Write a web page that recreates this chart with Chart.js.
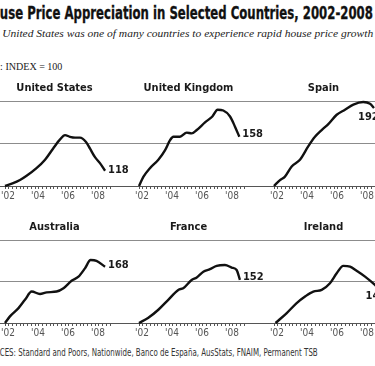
<!DOCTYPE html>
<html><head><meta charset="utf-8">
<script src="https://cdn.jsdelivr.net/npm/chart.js@4.4.1/dist/chart.umd.min.js"></script>
<style>
html,body{margin:0;padding:0;background:#fff;}
body{width:375px;height:366px;overflow:hidden;position:relative;}
.txt{position:absolute;white-space:nowrap;top:0;left:0;}
canvas{position:absolute;}
</style></head><body>
<div id="t1" class="txt" style="font:bold 17px/20px 'Liberation Sans Narrow','DejaVu Sans Condensed','Liberation Sans',sans-serif;color:#111;top:3px;-webkit-text-stroke:0.3px #111;"><span id="t1p">Ho</span><span id="t1v">use Price Appreciation in Selected Countries, 2002-2008</span></div>
<div id="t2" class="txt" style="font:italic 11px/13px 'Liberation Serif','DejaVu Serif',serif;color:#222;top:27px;"><span id="t2p">The </span><span id="t2v">United States was one of many countries to experience rapid house price growth</span></div>
<div id="t3" class="txt" style="font:10px/12px 'Liberation Serif','DejaVu Serif',serif;color:#222;top:61px;"><span id="t3p">2002: </span><span id="t3v">INDEX = 100</span></div>
<div id="t4" class="txt" style="font:10px/11px 'Liberation Sans Narrow','DejaVu Sans Condensed','Liberation Sans',sans-serif;color:#333;top:347px;"><span id="t4p">SOUR</span><span id="t4v">CES: Standard and Poors, Nationwide, Banco de España, AusStats, FNAIM, Permanent TSB</span></div>
<canvas id="c0"></canvas><canvas id="c1"></canvas><canvas id="c2"></canvas>
<canvas id="c3"></canvas><canvas id="c4"></canvas><canvas id="c5"></canvas>
<script>
// ---- DATA ----
const countries = ['United States', 'United Kingdom', 'Spain', 'Australia', 'France', 'Ireland'];

const usYears  = [2002.0, 2002.5, 2003.0, 2003.44, 2004.1, 2004.67, 2005.2, 2005.67, 2006.0, 2006.33, 2006.67, 2007.0, 2007.4, 2007.67, 2008.0, 2008.33, 2008.67];
const usValues = [100, 103, 107, 112, 121, 131, 144, 155, 160, 158, 157, 157, 152, 144, 134, 127, 118];

const ukYears  = [2002.0, 2002.3, 2002.73, 2003.29, 2003.73, 2004.07, 2004.29, 2004.73, 2005.18, 2005.51, 2005.85, 2006.4, 2006.89, 2007.24, 2007.62, 2008.07, 2008.4, 2008.69];
const ukValues = [100, 111, 121, 131, 142, 154, 158, 158, 163, 162, 166, 175, 182, 190, 189, 182, 170, 158];

const spainYears  = [2002.0, 2002.4, 2002.73, 2003.18, 2003.73, 2004.29, 2004.73, 2005.18, 2005.62, 2006.18, 2006.73, 2007.29, 2007.95, 2008.4, 2008.67];
const spainValues = [100, 107, 111, 123, 131, 147, 158, 166, 173, 184, 190, 196, 199, 197, 192];

const australiaYears  = [2002.0, 2002.33, 2002.9, 2003.33, 2003.78, 2004.33, 2004.78, 2005.44, 2005.9, 2006.44, 2006.9, 2007.33, 2007.71, 2008.1, 2008.67];
const australiaValues = [100, 108, 118, 128, 138, 135, 137, 138, 142, 151, 156, 166, 176, 175, 168];

const franceYears  = [2002.0, 2002.6, 2003.29, 2003.95, 2004.62, 2004.95, 2005.51, 2005.85, 2006.29, 2006.73, 2007.18, 2007.73, 2008.18, 2008.51, 2008.73];
const franceValues = [100, 106, 116, 128, 140, 142, 152, 155, 162, 165, 169, 170, 167, 164, 152];

const irelandYears  = [2002.1, 2002.85, 2003.51, 2004.07, 2004.62, 2005.18, 2005.73, 2006.18, 2006.62, 2007.07, 2007.51, 2008.07, 2008.73, 2008.9];
const irelandValues = [100, 112, 124, 132, 138, 140, 148, 160, 169, 168, 163, 156, 146, 143];

const tickYears  = [2002, 2004, 2006, 2008];
const tickLabels = ["'02", "'04", "'06", "'08"];
const gridValues = [100, 150, 200];

// ---- LAYOUT ----
const seriesYears  = [usYears, ukYears, spainYears, australiaYears, franceYears, irelandYears];
const seriesValues = [usValues, ukValues, spainValues, australiaValues, franceValues, irelandValues];
const colLeft = [-13, 121, 256];
const rowTop = [79, 218];
const rowHeight = [127, 125];
const panelW = 135, extraW = 30;
const X_MIN = 2000.8, X_MAX = 2009.8;
const labelOffsets = [[3,-1],[3,-3],[-16,9],[3,-2],[3,-3],[-12,9]];
const condensed = "'Liberation Sans Narrow','DejaVu Sans Condensed','Liberation Sans',sans-serif";

const quarterTicks = [];
for (let q = 0; q <= 28; q++) quarterTicks.push(2002 + q * 0.25);

function fit(id, x0, x1) {
  const el = document.getElementById(id);
  const p = document.getElementById(id + 'p');
  const v = document.getElementById(id + 'v');
  const pw = p.getBoundingClientRect().width;
  const vw = v.getBoundingClientRect().width;
  const s = (x1 - x0) / vw;
  el.style.transformOrigin = '0 0';
  el.style.transform = 'scaleX(' + s + ')';
  el.style.left = (x0 - pw * s) + 'px';
}
fit('t1', 0, 373);
fit('t2', 2, 373);
fit('t3', 5, 62);
fit('t4', 0, 318);

const endLabel = {
  id: 'endLabel',
  afterDatasetsDraw(chart, args, opts) {
    const meta = chart.getDatasetMeta(0);
    const pt = meta.data[meta.data.length - 1];
    const d = chart.data.datasets[0].data;
    const ctx = chart.ctx;
    ctx.save();
    ctx.font = 'bold 11px ' + condensed;
    ctx.fillStyle = '#1a1a1a';
    ctx.textAlign = 'left';
    ctx.textBaseline = 'middle';
    ctx.fillText(String(d[d.length - 1].y), pt.x + opts.dx, pt.y + opts.dy);
    ctx.restore();
  }
};

countries.forEach((name, i) => {
  const row = Math.floor(i / 3), col = i % 3;
  const cv = document.getElementById('c' + i);
  const w = panelW + extraW;
  cv.style.left = colLeft[col] + 'px';
  cv.style.top = rowTop[row] + 'px';
  cv.width = w; cv.height = rowHeight[row];
  cv.style.width = w + 'px'; cv.style.height = rowHeight[row] + 'px';
  const yrs = seriesYears[i], vals = seriesValues[i];
  new Chart(cv.getContext('2d'), {
    type: 'line',
    data: { datasets: [{
      data: yrs.map((x, k) => ({ x: x, y: vals[k] })),
      borderColor: '#111', borderWidth: 2.4, pointRadius: 0,
      cubicInterpolationMode: 'monotone', fill: false, clip: 8
    }]},
    options: {
      responsive: false, animation: false, devicePixelRatio: 1,
      layout: { padding: { left: 0, top: 0, bottom: 0, right: extraW } },
      plugins: {
        legend: { display: false }, tooltip: { enabled: false },
        title: { display: true, text: name, color: '#1a1a1a',
          font: { family: condensed, size: 11, weight: 'bold', lineHeight: 1.2 },
          padding: { top: 3, bottom: 6 } },
        endLabel: { dx: labelOffsets[i][0], dy: labelOffsets[i][1] }
      },
      scales: {
        x: {
          type: 'linear', min: X_MIN, max: X_MAX,
          afterBuildTicks: s => { s.ticks = quarterTicks.map(v => ({ value: v })); },
          afterFit: s => { s.height = 20; },
          ticks: { autoSkip: false, maxRotation: 0, padding: 1, labelOffset: 3, color: '#555',
            font: { family: condensed, size: 10 },
            callback: v => { const k = tickYears.findIndex(y => Math.abs(y - v) < 1e-6); return k >= 0 ? tickLabels[k] : ''; } },
          grid: { drawOnChartArea: false, drawTicks: true, tickLength: 3, color: '#555', lineWidth: 1 },
          border: { display: true, color: '#555', width: 1 }
        },
        y: {
          min: 100, max: 200,
          afterBuildTicks: s => { s.ticks = gridValues.map(v => ({ value: v })); },
          afterFit: s => { s.width = 0; },
          ticks: { display: false },
          grid: { drawTicks: false, color: '#8c8c8c', lineWidth: 1 },
          border: { display: false }
        }
      }
    },
    plugins: [endLabel]
  });
});
</script>
</body></html>
